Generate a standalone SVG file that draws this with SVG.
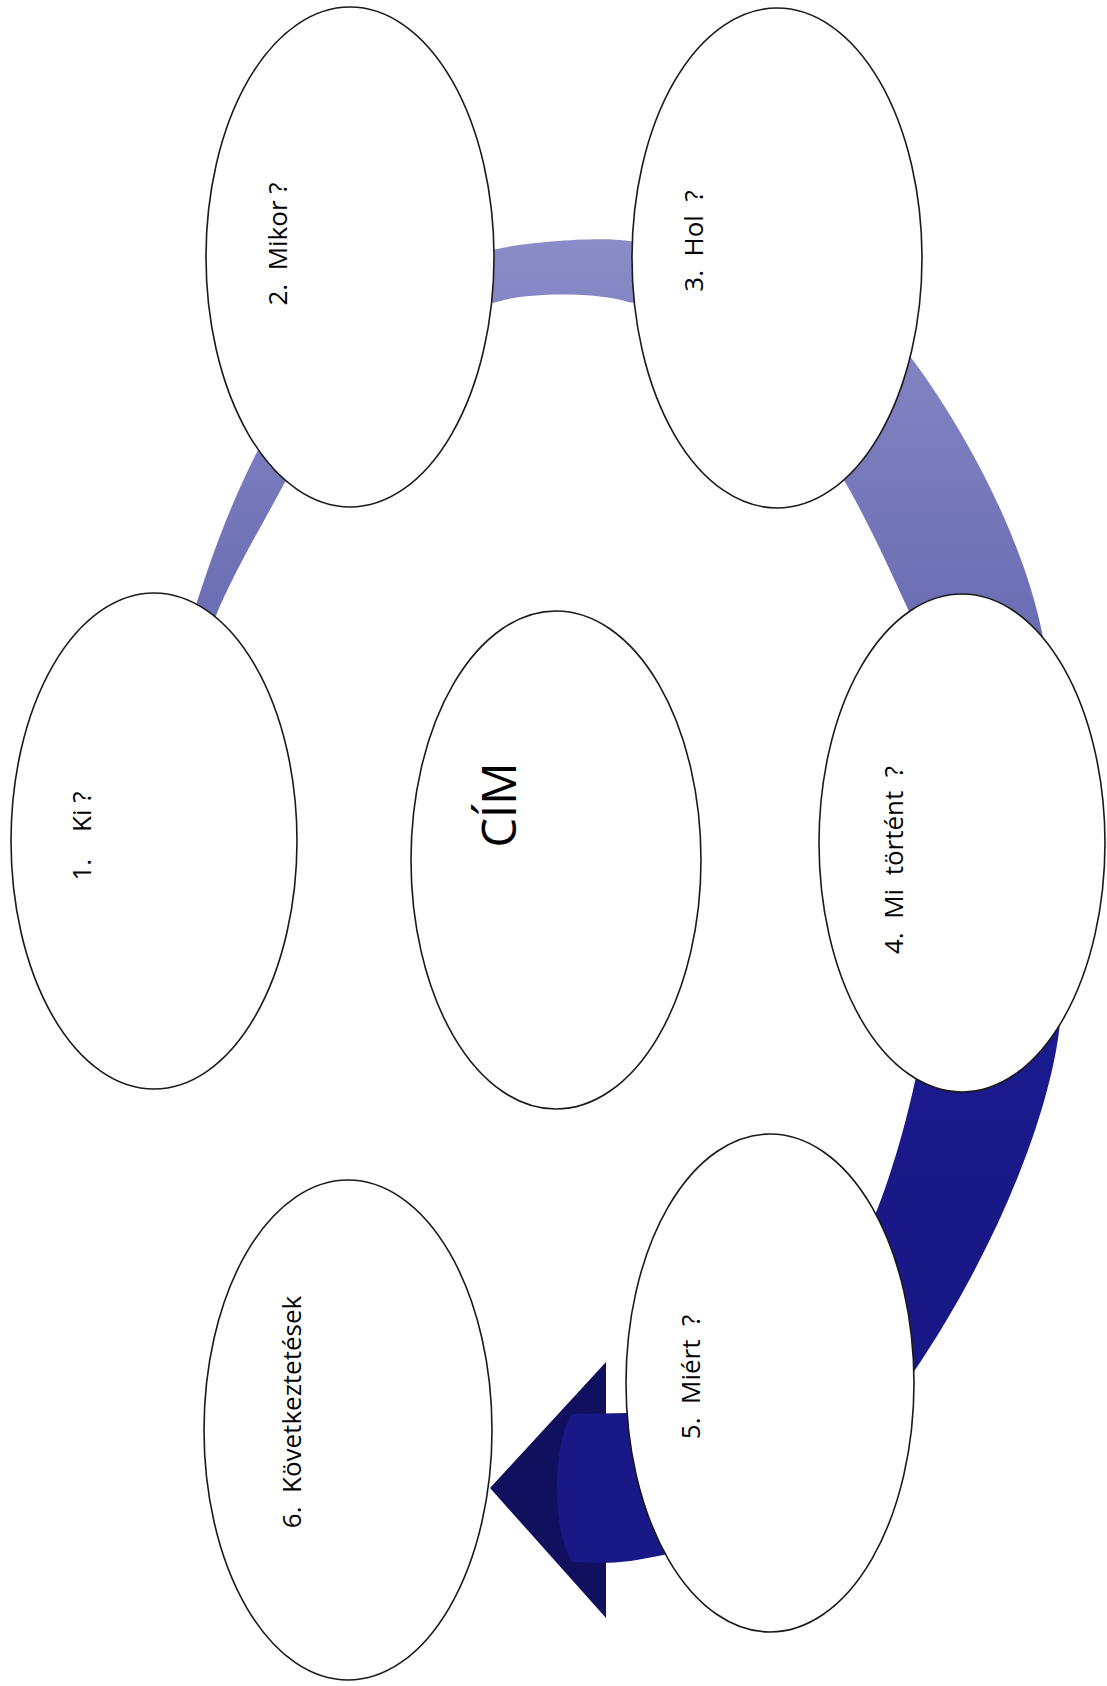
<svg xmlns="http://www.w3.org/2000/svg" width="1107" height="1686" viewBox="0 0 1107 1686">
<defs>
<linearGradient id="arcGrad" gradientUnits="userSpaceOnUse" x1="0" y1="240" x2="0" y2="1200">
<stop offset="0" stop-color="#8a8cc8"/>
<stop offset="0.4" stop-color="#6c6eb4"/>
<stop offset="0.78" stop-color="#1c1c94"/>
<stop offset="1" stop-color="#181886"/>
</linearGradient>
<style>
.node ellipse{fill:#ffffff;stroke:#1a1a1a;stroke-width:1.6}
.lbl{font-family:"Open Sans","Noto Sans","Liberation Sans",sans-serif;font-size:26px;fill:#000000;text-anchor:middle}
.title{font-family:"Open Sans","Noto Sans","Liberation Sans",sans-serif;font-size:47px;fill:#000000;text-anchor:middle}
</style>
</defs>
<rect x="0" y="0" width="1107" height="1686" fill="#ffffff"/>
<g id="connectors">
<path id="arrowhead" d="M606,1362 L606,1618 L490,1488 Z" fill="#10105e"/>
<path id="circular-arrow" fill="url(#arcGrad)" d="M185,640 C205,575 225,515 257,452 C290,380 420,260 497,249 C520,243 600,236 628,241 C720,245 850,280 905,350 C945,400 1020,520 1043,637 C1067,760 1085,900 1060,1023 C1050,1120 990,1260 913,1373 C870,1440 750,1535 663,1555 C640,1560 620,1563 600,1563 L572,1562 C552,1530 552,1445 572,1414 L627,1413 C720,1410 840,1300 877,1210 C940,1050 975,750 907,607 C890,570 865,515 842,477 C800,400 700,310 628,302 C600,292 525,292 497,302 C420,315 320,400 285,482 C265,520 235,570 217,613 L205,650 Z"/>
</g>
<g id="node-1" class="node">
<ellipse cx="154" cy="841" rx="143" ry="248"/>
<text class="lbl" x="91" y="836" transform="rotate(-90 91 836)" xml:space="preserve">1.    Ki ?</text>
</g>
<g id="node-2" class="node">
<ellipse cx="350" cy="257" rx="144" ry="250"/>
<text class="lbl" x="287" y="244" transform="rotate(-90 287 244)" xml:space="preserve">2.  Mikor ?</text>
</g>
<g id="node-3" class="node">
<ellipse cx="777" cy="258" rx="145" ry="250"/>
<text class="lbl" x="703" y="241" transform="rotate(-90 703 241)" xml:space="preserve">3.  Hol  ?</text>
</g>
<g id="node-title" class="node">
<ellipse cx="556" cy="860" rx="145" ry="249"/>
<text class="title" x="516" y="805" transform="rotate(-90 516 805)">CÍM</text>
</g>
<g id="node-4" class="node">
<ellipse cx="962" cy="843" rx="143" ry="249"/>
<text class="lbl" x="903" y="860" transform="rotate(-90 903 860)" xml:space="preserve">4.  Mi  történt  ?</text>
</g>
<g id="node-5" class="node">
<ellipse cx="770" cy="1383" rx="144" ry="249"/>
<text class="lbl" x="700" y="1377" transform="rotate(-90 700 1377)" xml:space="preserve">5.  Miért  ?</text>
</g>
<g id="node-6" class="node">
<ellipse cx="348" cy="1430" rx="144" ry="250"/>
<text class="lbl" x="301" y="1412" transform="rotate(-90 301 1412)" xml:space="preserve">6.  Következtetések</text>
</g>
</svg>
